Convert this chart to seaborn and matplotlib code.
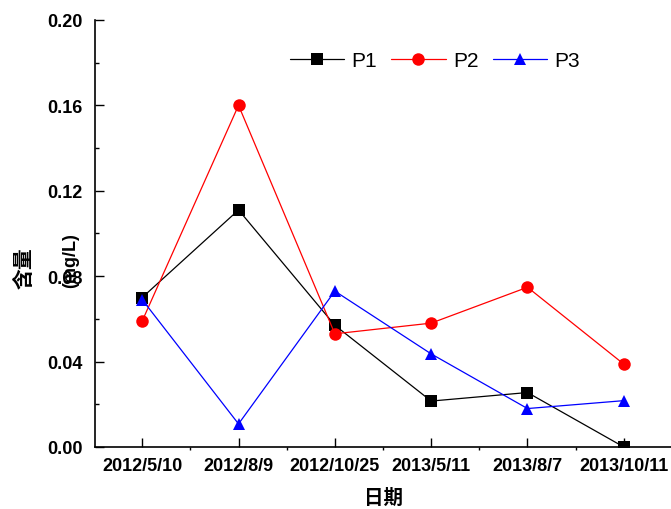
import numpy as np
import pandas as pd
import matplotlib
matplotlib.use("Agg")
import matplotlib.pyplot as plt
import seaborn as sns
from matplotlib.ticker import MultipleLocator

dates = ["2012/5/10", "2012/8/9", "2012/10/25", "2013/5/11", "2013/8/7", "2013/10/11"]
p1 = [0.070, 0.111, 0.057, 0.0215, 0.0255, 0.000]
p2 = [0.059, 0.160, 0.053, 0.058, 0.0748, 0.0388]
p3 = [0.069, 0.0108, 0.073, 0.0436, 0.018, 0.0217]
series = ["P1", "P2", "P3"]

sns.set_theme(style="white")
plt.rcParams['font.family'] = ['Liberation Sans', 'Noto Sans CJK SC', 'DejaVu Sans']
plt.rcParams['text.color'] = 'black'

df = pd.DataFrame({
    "pos": list(range(len(dates))) * 3,
    "val": p1 + p2 + p3,
    "site": sum([[s] * len(dates) for s in series], []),
})

fig = plt.figure(figsize=(6.71, 5.10), dpi=100)
ax = fig.add_axes([0.1416, 0.1216, 0.8584, 0.8374])

palette = {"P1": "black", "P2": "red", "P3": "blue"}
markers = {"P1": "s", "P2": "o", "P3": "^"}
sns.lineplot(data=df, x="pos", y="val", hue="site", style="site",
             palette=palette, markers=markers, dashes=False,
             markersize=9, markeredgewidth=0, linewidth=0.9, ax=ax)

ax.set_xlim(-0.49, 5.49)
ax.set_ylim(0, 0.20)
ax.set_xticks(range(len(dates)))
ax.set_xticklabels(dates, fontweight="bold", fontsize=13)
ax.set_yticks(np.arange(0, 0.21, 0.04))
ax.set_yticklabels([f"{v:.2f}" for v in np.arange(0, 0.21, 0.04)], fontweight="bold", fontsize=13)
ax.yaxis.set_minor_locator(MultipleLocator(0.02))
ax.xaxis.set_minor_locator(MultipleLocator(0.5))
ax.tick_params(bottom=True, left=True, which="both", labelcolor="black")
ax.tick_params(axis="both", which="major", direction="in", length=6.5, width=1, color="black")
ax.tick_params(axis="y", which="major", pad=9)
ax.tick_params(axis="x", which="major", pad=7)
ax.tick_params(axis="both", which="minor", direction="in", length=3, width=1, color="black")
ax.tick_params(axis="x", which="minor", direction="out", length=2)

for s in ["top", "right"]:
    ax.spines[s].set_visible(False)
for s in ["left", "bottom"]:
    ax.spines[s].set_color("black")
    ax.spines[s].set_linewidth(1.2)

ax.set_xlabel("日期", fontweight="bold", fontsize=14, labelpad=10, color="black")
ax.set_ylabel("")
fig.text(0.037, 0.475, "含量", rotation=90, fontweight="bold", fontsize=15,
         ha="center", va="center", color="black")
fig.text(0.105, 0.49, "(mg/L)", rotation=90, fontweight="bold", fontsize=13,
         ha="center", va="center", color="black")

leg = ax.legend(loc="center", bbox_to_anchor=(0.59, 0.905), ncol=3, frameon=False,
                fontsize=15, handlelength=2.6, columnspacing=0.7, handletextpad=0.35)
leg.set_title(None)
for t in leg.get_texts():
    t.set_color("black")

fig.savefig("out.png", dpi=100)
